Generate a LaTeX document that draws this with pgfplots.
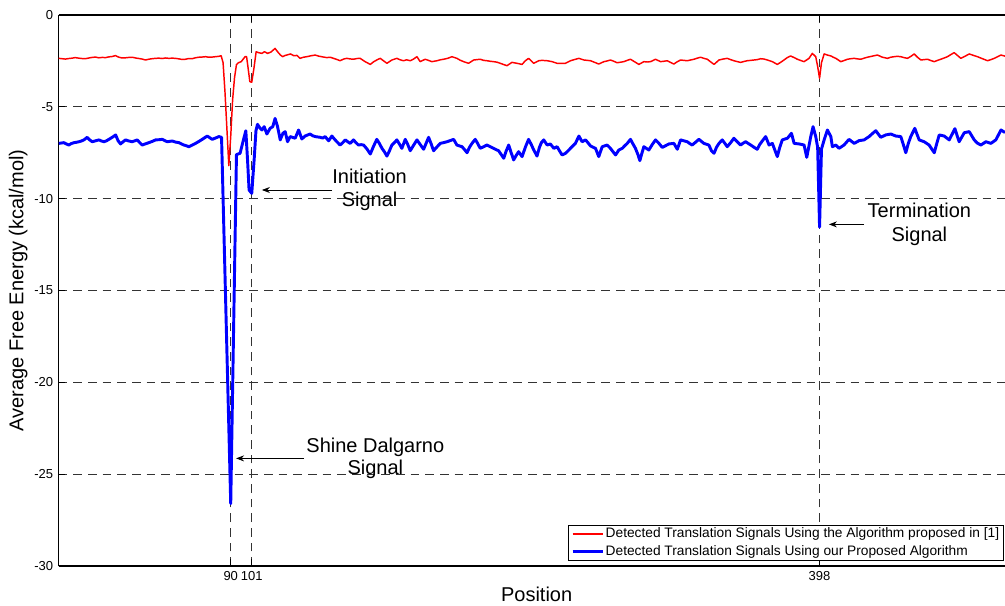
\documentclass[border=0pt]{standalone}
\usepackage{fontspec}
\setmainfont{Liberation Sans}
\usepackage{pgfplots}
\pgfplotsset{compat=1.18}
\usetikzlibrary{arrows.meta}
\begin{document}
\begin{tikzpicture}
\begin{axis}[
 name=ax,
 scale only axis, width=709.7pt, height=413.25pt,
 xmin=0, xmax=495, ymin=-30, ymax=0,
 axis x line*=box, axis y line*=left,
 axis line style={line width=0.9pt, black},
 xtick={90,101,398}, xticklabels={90,101,398},
 ytick={-30,-25,-20,-15,-10,-5,0}, yticklabels={-30,-25,-20,-15,-10,-5,0},
 tick align=inside, major tick length=5pt, tick style={black, line width=0.6pt},
 ticklabel style={font=\fontsize{9.75}{11}\selectfont, inner sep=0pt},
 xticklabel style={yshift=-3.5pt},
 yticklabel style={xshift=-4pt},
 grid=major,
 major grid style={black!80, line width=0.6pt, dash pattern=on 6.5pt off 4.5pt},
 xlabel={Position},
 xlabel style={at={(axis description cs:0.50505,-0.0649)}, anchor=base, font=\fontsize{15}{18}\selectfont, inner sep=0pt},
 ylabel={Average Free Energy (kcal/mol)},
 ylabel style={at={(axis description cs:-0.0427,0.5)}, anchor=center, font=\fontsize{15}{18}\selectfont, inner sep=0pt},
 legend style={at={(axis description cs:1,0)}, anchor=south east, xshift=-0.75pt, yshift=4pt, fill=white, font=\fontsize{10.3}{12}\selectfont, inner xsep=2.2pt, inner ysep=1pt, nodes={inner xsep=1.25pt, inner ysep=1pt}, /tikz/column sep=0pt, row sep=2.4pt},
 legend cell align=left,
]
\addlegendimage{red, line width=1.1pt, legend image code/.code={\draw[red, line width=1.1pt] (0pt,0pt) -- (22.5pt,0pt);}}
\addlegendentry{Detected Translation Signals Using the Algorithm proposed in [1]}
\addlegendimage{blue, line width=2.2pt, legend image code/.code={\draw[blue, line width=2.2pt] (0pt,0pt) -- (22.5pt,0pt);}}
\addlegendentry{Detected Translation Signals Using our Proposed Algorithm}
\addplot[red, line width=1.1pt, line join=round, forget plot] coordinates {
(0,-2.36)(1.8,-2.38)(3.5,-2.40)(5.3,-2.37)(7,-2.35)(8.7,-2.32)(10.5,-2.35)(12.2,-2.37)(14,-2.38)(15.8,-2.34)(17.5,-2.31)(19.2,-2.29)(21,-2.33)(22.8,-2.31)(24.5,-2.32)(26.3,-2.28)(28,-2.26)(29.7,-2.21)(31.5,-2.30)(33.2,-2.34)(35,-2.33)(36.8,-2.31)(38.5,-2.30)(40.2,-2.34)(42,-2.37)(43.7,-2.40)(45.4,-2.45)(47,-2.41)(48.8,-2.38)(50.6,-2.36)(52.4,-2.35)(54.1,-2.37)(55.9,-2.34)(57.6,-2.36)(59.4,-2.35)(61.1,-2.36)(62.9,-2.39)(64.6,-2.42)(66.3,-2.41)(68,-2.37)(69.8,-2.38)(71.5,-2.33)(73.3,-2.30)(75,-2.29)(76.8,-2.27)(78.5,-2.30)(80.3,-2.29)(82,-2.27)(83.8,-2.25)(85,-2.22)(86,-2.6)(87,-4.2)(88,-6.2)(89,-8.2)(90,-6.6)(91,-4.6)(92,-3.4)(93,-2.7)(94,-2.6)(95.5,-2.54)(97.5,-2.27)(98.3,-2.27)(99.1,-2.9)(100,-3.63)(101,-3.66)(102,-3.0)(103.3,-2.0)(104.5,-2.05)(106.3,-2.09)(107.6,-2.0)(109.3,-2.09)(111,-2.02)(113.2,-1.82)(114.5,-2.0)(116,-2.18)(117.2,-2.27)(118.5,-2.2)(120,-2.16)(121.3,-2.12)(123,-2.22)(124.6,-2.2)(126.3,-2.36)(128,-2.3)(129.8,-2.27)(132,-2.22)(134.2,-2.18)(136,-2.24)(138,-2.28)(140.3,-2.32)(142,-2.30)(143.8,-2.36)(145.5,-2.42)(147.2,-2.49)(149,-2.40)(150.7,-2.36)(152.4,-2.39)(154.2,-2.41)(156,-2.37)(157.7,-2.36)(160.3,-2.54)(163,-2.69)(164.7,-2.55)(166.4,-2.45)(168.2,-2.36)(170,-2.50)(171.7,-2.63)(174.3,-2.45)(176.9,-2.36)(178.6,-2.44)(180.4,-2.49)(182,-2.44)(183.9,-2.49)(185.6,-2.40)(187.4,-2.27)(189.1,-2.54)(191.7,-2.41)(193.4,-2.47)(195.2,-2.54)(197.9,-2.49)(199.6,-2.44)(201.3,-2.41)(203.5,-2.36)(205.7,-2.27)(208.3,-2.36)(210,-2.46)(211.8,-2.54)(214.4,-2.63)(217.1,-2.45)(218.8,-2.43)(220.5,-2.41)(222.3,-2.47)(224,-2.49)(225.8,-2.52)(227.5,-2.54)(229.3,-2.57)(231,-2.63)(232.8,-2.70)(234.5,-2.76)(237.1,-2.58)(239.7,-2.63)(242.4,-2.69)(244,-2.50)(245.8,-2.36)(248.5,-2.63)(251.1,-2.49)(252.8,-2.47)(255.5,-2.49)(258.1,-2.54)(260.7,-2.63)(263,-2.64)(265.1,-2.63)(267.7,-2.49)(270,-2.42)(272.1,-2.36)(274.7,-2.45)(276.5,-2.47)(278.2,-2.49)(280.4,-2.58)(282.5,-2.67)(285.2,-2.54)(287,-2.50)(288.6,-2.45)(290.4,-2.52)(292.1,-2.60)(293.9,-2.57)(295.6,-2.54)(297.4,-2.47)(299.1,-2.41)(301.3,-2.55)(303.5,-2.69)(306.1,-2.54)(307.8,-2.56)(309.6,-2.54)(312.2,-2.41)(314.8,-2.54)(316.5,-2.52)(318.3,-2.49)(320,-2.58)(321.8,-2.67)(323.5,-2.55)(325.3,-2.45)(327,-2.47)(328.8,-2.49)(330.5,-2.45)(332.3,-2.41)(334,-2.35)(335.8,-2.30)(337.5,-2.36)(339.3,-2.41)(341,-2.55)(342.8,-2.69)(345.4,-2.45)(347.5,-2.40)(349.7,-2.36)(351.5,-2.43)(353.2,-2.49)(355,-2.54)(356.7,-2.58)(358.5,-2.53)(360.2,-2.49)(362,-2.47)(363.7,-2.45)(365.4,-2.43)(367.2,-2.38)(369,-2.40)(370.7,-2.45)(373.3,-2.54)(375.9,-2.69)(377.6,-2.58)(379.4,-2.45)(381.1,-2.32)(382.9,-2.23)(384.7,-2.32)(386.4,-2.41)(388.2,-2.48)(389.9,-2.54)(391.2,-2.45)(392.5,-2.36)(394.2,-2.09)(396,-2.27)(397,-2.8)(398,-3.45)(399,-2.6)(400.4,-2.12)(402.1,-2.18)(403.9,-2.23)(405.2,-2.30)(406.5,-2.36)(407.8,-2.45)(409.1,-2.54)(410.8,-2.48)(412.6,-2.41)(414.3,-2.38)(416.1,-2.36)(417.8,-2.39)(419.6,-2.41)(421.3,-2.35)(423,-2.30)(425.6,-2.24)(428.3,-2.18)(430.9,-2.30)(433.5,-2.36)(435.2,-2.30)(437,-2.27)(438.7,-2.25)(440.5,-2.27)(442.2,-2.32)(444,-2.36)(445.8,-2.25)(447.5,-2.12)(449.2,-2.30)(451,-2.45)(452.7,-2.43)(454.5,-2.41)(456.2,-2.48)(458,-2.54)(459.7,-2.47)(461.4,-2.41)(463.2,-2.34)(464.9,-2.27)(466.6,-2.16)(468.4,-2.05)(470.1,-2.20)(471.9,-2.36)(474,-2.25)(476.3,-2.12)(478.5,-2.20)(480.6,-2.27)(483.2,-2.38)(485.9,-2.49)(487.6,-2.43)(489.4,-2.36)(491.1,-2.27)(492.9,-2.18)(495,-2.24)
};
\addplot[blue, line width=2.2pt, line join=round, forget plot] coordinates {
(0.1,-6.99)(1.4,-6.97)(2.7,-6.95)(4,-7.02)(5.3,-7.08)(6.6,-7.00)(8,-6.95)(9.3,-6.93)(10.6,-6.90)(11.9,-6.86)(13.2,-6.80)(14.9,-6.66)(16.2,-6.80)(17.6,-6.90)(19.3,-6.85)(21.1,-6.80)(22.4,-6.86)(23.7,-6.90)(25,-6.85)(26.3,-6.77)(28,-6.66)(29.8,-6.53)(31.1,-6.85)(32.4,-7.02)(33.7,-6.90)(35,-6.80)(36.7,-6.86)(38.5,-6.90)(39.8,-6.85)(41.1,-6.80)(42.4,-6.95)(43.7,-7.08)(45.5,-7.01)(47.2,-6.95)(49,-6.88)(50.7,-6.80)(52.5,-6.79)(54.2,-6.77)(55.5,-6.84)(56.8,-6.90)(58.1,-6.88)(59.4,-6.86)(61.2,-6.92)(62.9,-6.95)(64.2,-7.02)(65.5,-7.08)(66.8,-7.12)(68.1,-7.17)(69.9,-7.08)(71.6,-6.99)(73.4,-6.88)(75.1,-6.77)(76.4,-6.68)(77.7,-6.59)(79,-6.68)(80.3,-6.77)(82,-6.70)(83.8,-6.62)(85.2,-6.66)(90,-26.6)(93,-7.6)(94.9,-7.53)(96.4,-6.9)(97.9,-6.3)(98.8,-7.9)(99.6,-9.53)(101,-9.71)(102.3,-7.8)(103.2,-6.3)(104,-5.95)(105.4,-6.17)(106.3,-6.26)(107.5,-6.08)(108.9,-6.48)(110.6,-6.17)(112,-6.08)(113.2,-5.63)(114.5,-6.08)(115.9,-6.80)(117.3,-6.44)(118.5,-6.35)(119.7,-6.90)(121.1,-6.62)(123.7,-6.71)(125.5,-6.26)(127.2,-6.75)(128.9,-6.59)(131.5,-6.48)(133,-6.58)(134.2,-6.62)(135.5,-6.64)(136.8,-6.66)(138.1,-6.70)(139.4,-6.62)(141.2,-6.85)(142.9,-6.59)(144.2,-6.75)(145.5,-6.90)(147.2,-7.08)(148.6,-6.95)(149.9,-6.80)(151.2,-6.90)(152.5,-6.99)(154.2,-6.80)(155.5,-6.95)(156.8,-7.08)(158.2,-7.06)(159.5,-7.08)(161.3,-7.30)(163,-7.57)(164.7,-7.15)(166.4,-6.77)(167.8,-7.00)(169.1,-7.26)(170.4,-7.45)(171.7,-7.68)(173,-7.40)(174.3,-7.08)(175.6,-6.95)(176.9,-6.80)(178.2,-7.02)(179.5,-7.26)(181.3,-6.77)(182.6,-7.05)(183.9,-7.39)(185.6,-7.10)(187.4,-6.80)(189.1,-7.05)(190.9,-7.31)(193.5,-6.66)(194.8,-7.00)(196.1,-7.39)(197.9,-7.18)(199.6,-6.99)(201.3,-6.95)(203.1,-6.90)(204.8,-6.84)(206.6,-6.77)(208.3,-7.08)(209.7,-7.13)(211,-7.17)(212.3,-7.33)(213.6,-7.50)(214.9,-7.20)(216.2,-6.99)(217.9,-6.77)(219.2,-7.00)(220.5,-7.26)(222.3,-7.17)(224,-7.08)(225.8,-7.17)(227.5,-7.26)(228.8,-7.33)(230.1,-7.39)(231.5,-7.60)(232.8,-7.80)(234.1,-7.40)(235.4,-7.08)(236.7,-7.50)(238,-7.89)(239.3,-7.65)(240.6,-7.44)(241.5,-7.58)(242.4,-7.71)(244.1,-7.20)(245.8,-6.77)(247.2,-7.05)(248.5,-7.35)(249.4,-7.52)(250.2,-7.68)(251.5,-7.20)(252.5,-6.95)(253.7,-6.80)(255.5,-7.08)(257.2,-7.02)(259,-7.26)(260.7,-7.17)(262,-7.40)(263.3,-7.62)(265.1,-7.53)(266.4,-7.40)(267.7,-7.26)(269,-7.12)(270.3,-6.99)(272.1,-6.59)(273.8,-6.90)(275.6,-6.80)(276.9,-6.96)(278.2,-7.13)(279.5,-7.20)(280.8,-7.26)(282.5,-7.71)(284.3,-7.17)(286.9,-7.08)(288.6,-7.26)(290,-7.45)(291.3,-7.62)(293,-7.35)(294.8,-7.26)(296.1,-7.12)(297.4,-6.99)(299.1,-6.77)(300.4,-7.02)(301.7,-7.26)(303,-7.60)(304,-7.93)(305,-7.55)(306.1,-7.17)(308.7,-7.35)(310.5,-7.05)(312.2,-6.80)(314,-6.99)(315.7,-7.21)(317.4,-7.12)(319.2,-7.02)(321.8,-6.99)(323.6,-7.31)(325.3,-6.80)(327,-6.85)(328.8,-6.90)(330.1,-7.00)(331.4,-7.08)(333.2,-6.92)(334.9,-6.77)(336.2,-6.88)(337.5,-6.99)(340.1,-7.08)(341.5,-7.40)(342.8,-7.53)(344.1,-7.20)(345.4,-6.99)(347.1,-6.80)(348.4,-6.98)(349.7,-7.17)(351.5,-6.95)(353.2,-6.71)(354.9,-6.90)(356.7,-7.08)(358,-6.98)(359.3,-6.90)(362,-7.08)(363.7,-7.20)(365.4,-7.31)(366.7,-7.05)(368.1,-6.85)(369.8,-6.62)(371.6,-7.08)(373.3,-6.99)(374.6,-7.35)(375.9,-7.71)(377.2,-7.20)(378.5,-6.80)(381.2,-6.71)(383.3,-6.44)(384.7,-6.99)(387.3,-7.02)(389.9,-7.08)(391.3,-7.75)(393.4,-6.62)(394.6,-6.08)(396,-6.62)(397,-7.2)(398,-11.55)(399,-7.3)(400.4,-6.80)(402.1,-6.26)(403.9,-6.62)(404.7,-7.17)(406.5,-7.08)(408.2,-7.26)(410.8,-7.08)(413.4,-6.77)(416.1,-6.99)(418.7,-6.84)(421.3,-6.80)(423.9,-6.62)(425.7,-6.45)(427.4,-6.30)(430,-6.66)(432.6,-6.53)(435.3,-6.48)(437.9,-6.59)(440.5,-6.62)(441.8,-7.05)(443.1,-7.50)(444.4,-7.00)(445.7,-6.62)(447.8,-6.17)(450.1,-6.80)(452.7,-6.90)(455.3,-7.08)(456.7,-7.30)(458,-7.50)(459.3,-7.00)(460.6,-6.53)(463.2,-6.59)(465.8,-6.80)(467.3,-6.50)(468.8,-6.19)(471,-6.90)(473.7,-6.41)(476.3,-6.35)(478.9,-6.80)(480.6,-6.98)(482.4,-7.08)(485,-6.90)(487.6,-6.99)(490.2,-6.80)(492.9,-6.26)(495,-6.40)
};
\draw[line width=0.6pt, -{Stealth[length=6pt,width=4.5pt]}] (axis cs:143.0,-9.528) -- (axis cs:106.3,-9.528);
\node[anchor=west, align=center, inner sep=0pt, font=\fontsize{15}{17.5}\selectfont] at (axis cs:143.0,-9.528) {Initiation\\Signal};
\draw[line width=0.6pt, -{Stealth[length=6pt,width=4.5pt]}] (axis cs:128.4,-24.14) -- (axis cs:92.8,-24.14);
\node[anchor=west, align=center, inner sep=0pt, xshift=1.5pt, font=\fontsize{15}{17}\selectfont] at (axis cs:128.4,-24.14) {Shine Dalgarno\\Signal};
\draw[line width=0.6pt, -{Stealth[length=6pt,width=4.5pt]}] (axis cs:421.3,-11.40) -- (axis cs:402.9,-11.40);
\node[anchor=west, align=center, inner sep=0pt, xshift=2.5pt, font=\fontsize{15}{17.5}\selectfont] at (axis cs:421.3,-11.40) {Termination\\Signal};
\end{axis}
\pgfresetboundingbox
\useasboundingbox ([xshift=-44pt,yshift=-29.25pt]ax.south west) rectangle ([yshift=11.25pt]ax.north east);
\end{tikzpicture}
\end{document}
